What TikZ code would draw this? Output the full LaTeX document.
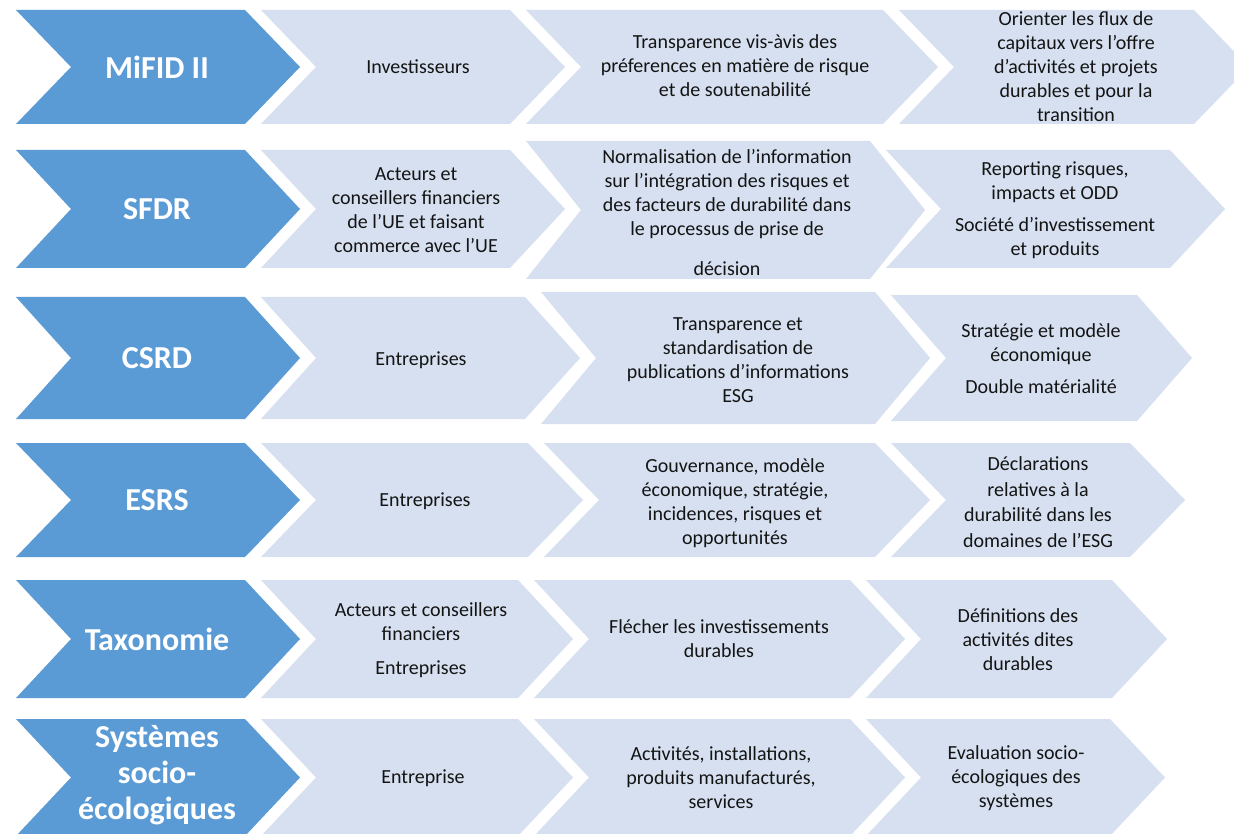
\documentclass[tikz,border=0pt]{standalone}
\usepackage{fontspec}
\setmainfont{Carlito}
\definecolor{bluec}{HTML}{5B9BD5}
\definecolor{lightc}{HTML}{D6E0F0}
\definecolor{txtc}{HTML}{141414}
\newcommand\chevshape[5]{%
  \fill[#5] (#1,#3) -- (#2,#3) -- ({#2+55},{(#3+#4)/2}) -- (#2,#4) -- (#1,#4) -- ({#1+55},{(#3+#4)/2}) -- cycle;}
\begin{document}
\begin{tikzpicture}[x=1pt,y=-1pt,
  dk/.style={fill=bluec}, lt/.style={fill=lightc},
  btxt/.style={text=white, align=center, font=\bfseries\fontsize{32}{36}\selectfont, inner sep=0pt},
  gtxt/.style={text=txtc, align=center, font=\fontsize{20}{24}\selectfont, inner sep=0pt}]
\useasboundingbox (0,0) rectangle (1234,834);
\fill[white] (0,0) rectangle (1234,834);
\clip (0,0) rectangle (1234,834);
% row 1
\chevshape{16}{245}{10}{124}{dk}
\chevshape{261}{510}{10}{124}{lt}
\chevshape{526}{883}{10}{124}{lt}
\chevshape{899}{1194}{10}{124}{lt}
% row 2
\chevshape{16}{245}{150}{268}{dk}
\chevshape{261}{510}{150}{268}{lt}
\chevshape{526}{870}{141}{279}{lt}
\chevshape{886}{1170}{150}{268}{lt}
% row 3
\chevshape{16}{245}{297}{419}{dk}
\chevshape{261}{525}{297}{419}{lt}
\chevshape{541}{875}{292}{424}{lt}
\chevshape{891}{1137}{295}{421}{lt}
% row 4
\chevshape{16}{245}{443}{557}{dk}
\chevshape{261}{528}{443}{557}{lt}
\chevshape{544}{875}{443}{557}{lt}
\chevshape{891}{1130}{443}{557}{lt}
% row 5
\chevshape{16}{245}{580}{698}{dk}
\chevshape{261}{518}{580}{698}{lt}
\chevshape{534}{850}{580}{698}{lt}
\chevshape{866}{1112}{580}{698}{lt}
% row 6
\chevshape{16}{245}{719}{836}{dk}
\chevshape{261}{518}{719}{836}{lt}
\chevshape{534}{850}{719}{836}{lt}
\chevshape{866}{1110}{719}{836}{lt}
% texts row 1
\node[btxt] (t1a) at (157,67) {MiFID II};
\node[gtxt] (t1b) at (418,67) {Investisseurs};
\node[gtxt] (t1c) at (735,66) {Transparence vis-àvis des\\préferences en matière de risque\\et de soutenabilité};
\node[gtxt] (t1d) at (1076,67) {Orienter les flux de\\capitaux vers l'offre\\d'activités et projets\\durables et pour la\\transition};
% row 2
\node[btxt] (t2a) at (157,209) {SFDR};
\node[gtxt] (t2b) at (416,210) {Acteurs et\\conseillers financiers\\de l'UE et faisant\\commerce avec l'UE};
\node[gtxt] (t2c) at (727,213) {Normalisation de l'information\\sur l'intégration des risques et\\des facteurs de durabilité dans\\le processus de prise de\\[16pt]décision};
\node[gtxt] (t2d) at (1055,210) {Reporting risques,\\impacts et ODD\\[8pt]Société d'investissement\\et produits};
% row 3
\node[btxt] (t3a) at (157,358) {CSRD};
\node[gtxt] (t3b) at (421,360) {Entreprises};
\node[gtxt] (t3c) at (738,360) {Transparence et\\standardisation de\\publications d'informations\\ESG};
\node[gtxt] (t3d) at (1041,359) {Stratégie et modèle\\économique\\[8pt]Double matérialité};
% row 4
\node[btxt] (t4a) at (157,500) {ESRS};
\node[gtxt] (t4b) at (425,501) {Entreprises};
\node[gtxt] (t4c) at (735,503) {Gouvernance, modèle\\économique, stratégie,\\incidences, risques et\\opportunités};
\node[gtxt, font=\fontsize{20}{25.5}\selectfont] (t4d) at (1038,502) {Déclarations\\relatives à la\\durabilité dans les\\domaines de l'ESG};
% row 5
\node[btxt] (t5a) at (157,639) {Taxonomie};
\node[gtxt] (t5b) at (421,640) {Acteurs et conseillers\\financiers\\[10pt]Entreprises};
\node[gtxt] (t5c) at (719,639) {Flécher les investissements\\durables};
\node[gtxt] (t5d) at (1018,640) {Définitions des\\activités dites\\durables};
% row 6
\node[btxt] (t6a) at (157,775) {Systèmes\\socio-\\écologiques};
\node[gtxt] (t6b) at (423,778) {Entreprise};
\node[gtxt] (t6c) at (721,778) {Activités, installations,\\produits manufacturés,\\services};
\node[gtxt] (t6d) at (1016,778) {Evaluation socio-\\écologiques des\\systèmes};
\end{tikzpicture}
\end{document}
